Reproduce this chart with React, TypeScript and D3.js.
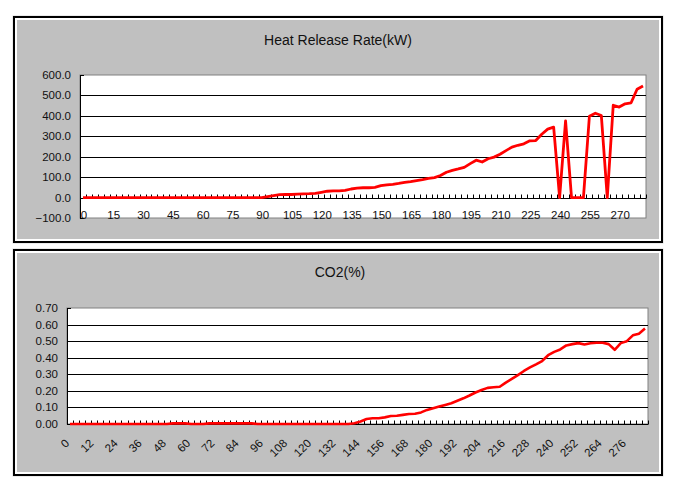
import React from "react";
import * as d3 from "d3";

const hrrTime = [0,3,6,9,12,15,18,21,24,27,30,33,36,39,42,45,48,51,54,57,60,63,66,69,72,75,78,81,84,87,90,93,96,99,102,105,108,111,114,117,120,123,126,129,132,135,138,141,144,147,150,153,156,159,162,165,168,171,174,177,180,183,186,189,192,195,198,201,204,207,210,213,216,219,222,225,228,231,234,237,240,243,246,249,252,255,258,261,264,267,270,273,276,279,282];
const hrrValues = [
  0,0,0,0,0,0,0,0,0,0, 0,0,0,0,0,0,0,0,0,0, 0,0,0,0,0,0,0,0,0,0,
  0,5,10,14,15,15,17,18,19,21,
  26,31,33,33,35,42,46,48,48,50,
  58,62,65,69,74,78,83,88,94,98,
  108,124,133,140,148,166,183,174,190,198,
  212,230,247,256,263,278,279,310,335,345,
  0,375,0,0,0,398,413,402,0,452,
  443,459,464,530,546,
];
const hrrYTicks = [-100,0,100,200,300,400,500,600];

const co2Time = [0,3,6,9,12,15,18,21,24,27,30,33,36,39,42,45,48,51,54,57,60,63,66,69,72,75,78,81,84,87,90,93,96,99,102,105,108,111,114,117,120,123,126,129,132,135,138,141,144,147,150,153,156,159,162,165,168,171,174,177,180,183,186,189,192,195,198,201,204,207,210,213,216,219,222,225,228,231,234,237,240,243,246,249,252,255,258,261,264,267,270,273,276,279,282,285];
const co2Values = [
  0,0,0,0,0,0,0,0,0,0, 0,0,0,0,0,0,0,
  0.004,0.004,0.004,
  0,0,0,
  0.004,0.004,0.004,0.004,0.004,0.004,0.004,0.004,
  0,0,0,0,0,0,0,0,0,0,0,0,0,0,0,0,
  0.005,0.015,0.03,0.035,0.035,0.04,0.048,0.05,0.055,
  0.06,0.062,0.07,0.085,0.095,0.105,0.115,0.125,0.14,0.155,
  0.172,0.19,0.205,0.218,0.222,0.225,0.25,0.272,0.295,0.32,
  0.342,0.36,0.38,0.415,0.435,0.45,0.474,0.482,0.488,0.48,
  0.487,0.49,0.49,0.482,0.448,0.488,0.5,0.535,0.545,0.576,
];
const co2YTicks = [0,0.1,0.2,0.3,0.4,0.5,0.6,0.7];

const FONT = "'Liberation Sans', Arial, sans-serif";

function Frame({ y0, y1 }: { y0: number; y1: number }) {
  return (
    <g>
      <rect x={13} y={y0} width={650} height={y1 - y0} fill="#ffffff" stroke="#d8d8d8" strokeWidth={1} />
      <rect x={14} y={y0 + 1} width={648} height={y1 - y0 - 2} fill="#ffffff" stroke="#000" strokeWidth={2} />
      <rect x={17} y={y0 + 4} width={642} height={y1 - y0 - 8} fill="#c0c0c0" />
    </g>
  );
}

function HRRChart() {
  const left = 80, right = 646, top = 75, bottom = 218;
  const x = d3.scaleBand<number>().domain(hrrTime).range([left, right]).paddingInner(0).paddingOuter(0);
  const y = d3.scaleLinear().domain([-100, 600]).range([bottom, top]);
  const fmt = d3.format(".1f");
  const line = d3
    .line<number>()
    .x((_, i) => (x(hrrTime[i]) as number) + x.bandwidth() / 2)
    .y((d) => y(d));
  const y0 = y(0);
  const boundaries = hrrTime.map((t) => x(t) as number).concat([right]);
  return (
    <g>
      <Frame y0={16} y1={243} />
      <text x={338} y={45} textAnchor="middle" fontFamily={FONT} fontSize={14} fill="#111">Heat Release Rate(kW)</text>
      <rect x={left} y={top} width={right - left} height={bottom - top} fill="#fff" stroke="#808080" strokeWidth={1} />
      {hrrYTicks.filter((t) => t !== 600 && t !== -100 && t !== 0).map((t) => (
        <line key={t} x1={left} x2={right} y1={Math.round(y(t)) + 0.5} y2={Math.round(y(t)) + 0.5} stroke="#000" strokeWidth={1} />
      ))}
      <line x1={left + 0.5} x2={left + 0.5} y1={top} y2={bottom} stroke="#000" strokeWidth={1} />
      {hrrYTicks.map((t) => (
        <g key={"yt" + t}>
          <line x1={left} x2={left + 4} y1={Math.round(y(t)) + 0.5} y2={Math.round(y(t)) + 0.5} stroke="#000" />
          <text x={71} y={y(t) + 4} textAnchor="end" fontFamily={FONT} fontSize={11.5} fill="#111">{fmt(t)}</text>
        </g>
      ))}
      <line x1={left} x2={right} y1={Math.round(y0) + 0.5} y2={Math.round(y0) + 0.5} stroke="#000" strokeWidth={1} />
      {boundaries.map((bx, i) => (
        <line key={"xt" + i} x1={Math.round(bx) + 0.5} x2={Math.round(bx) + 0.5} y1={Math.round(y0) + 0.5} y2={Math.round(y0) - 3.5} stroke="#000" strokeWidth={1} />
      ))}
      {hrrTime.filter((_, i) => i % 5 === 0).map((t) => (
        <text key={"xl" + t} x={(x(t) as number) + x.bandwidth() / 2 + 1} y={219} textAnchor="middle" fontFamily={FONT} fontSize={11.5} fill="#111">{t}</text>
      ))}
      <path d={line(hrrValues) || ""} fill="none" stroke="#ff0000" strokeWidth={2.8} strokeLinejoin="round" />
    </g>
  );
}

function CO2Chart() {
  const left = 67, right = 648, top = 308, bottom = 424;
  const x = d3.scaleBand<number>().domain(co2Time).range([left, right]).paddingInner(0).paddingOuter(0);
  const y = d3.scaleLinear().domain([0, 0.7]).range([bottom, top]);
  const fmt = d3.format(".2f");
  const line = d3
    .line<number>()
    .x((_, i) => (x(co2Time[i]) as number) + x.bandwidth() / 2)
    .y((d) => y(d));
  const boundaries = co2Time.map((t) => x(t) as number).concat([right]);
  return (
    <g>
      <Frame y0={249} y1={476} />
      <text x={340} y={277} textAnchor="middle" fontFamily={FONT} fontSize={14} fill="#111">CO2(%)</text>
      <rect x={left} y={top} width={right - left} height={bottom - top} fill="#fff" stroke="#808080" strokeWidth={1} />
      {co2YTicks.filter((t) => t !== 0 && t !== 0.7).map((t) => (
        <line key={t} x1={left} x2={right} y1={Math.round(y(t)) + 0.5} y2={Math.round(y(t)) + 0.5} stroke="#000" strokeWidth={1} />
      ))}
      <line x1={left + 0.5} x2={left + 0.5} y1={top} y2={bottom} stroke="#000" strokeWidth={1} />
      {co2YTicks.map((t) => (
        <g key={"yt" + t}>
          <line x1={left} x2={left + 4} y1={Math.round(y(t)) + 0.5} y2={Math.round(y(t)) + 0.5} stroke="#000" />
          <text x={58} y={y(t) + 4} textAnchor="end" fontFamily={FONT} fontSize={11.5} fill="#111">{fmt(t)}</text>
        </g>
      ))}
      <line x1={left} x2={right} y1={bottom + 0.5} y2={bottom + 0.5} stroke="#000" strokeWidth={1} />
      {boundaries.map((bx, i) => (
        <line key={"xt" + i} x1={Math.round(bx) + 0.5} x2={Math.round(bx) + 0.5} y1={bottom + 0.5} y2={bottom - 3.5} stroke="#000" strokeWidth={1} />
      ))}
      {co2Time.filter((_, i) => i % 4 === 0).map((t) => {
        const cx = (x(t) as number) + x.bandwidth() / 2;
        return (
          <text key={"xl" + t} transform={`translate(${cx},${444}) rotate(-45)`} textAnchor="end" fontFamily={FONT} fontSize={11.5} fill="#111">{t}</text>
        );
      })}
      <path d={line(co2Values) || ""} fill="none" stroke="#ff0000" strokeWidth={2.6} strokeLinejoin="round" />
    </g>
  );
}

export default function App() {
  return (
    <svg width={676} height={480} style={{ position: "absolute", left: 0, top: 0, background: "#fff" }}>
      <rect x={0} y={0} width={676} height={480} fill="#fff" />
      <HRRChart />
      <CO2Chart />
    </svg>
  );
}
